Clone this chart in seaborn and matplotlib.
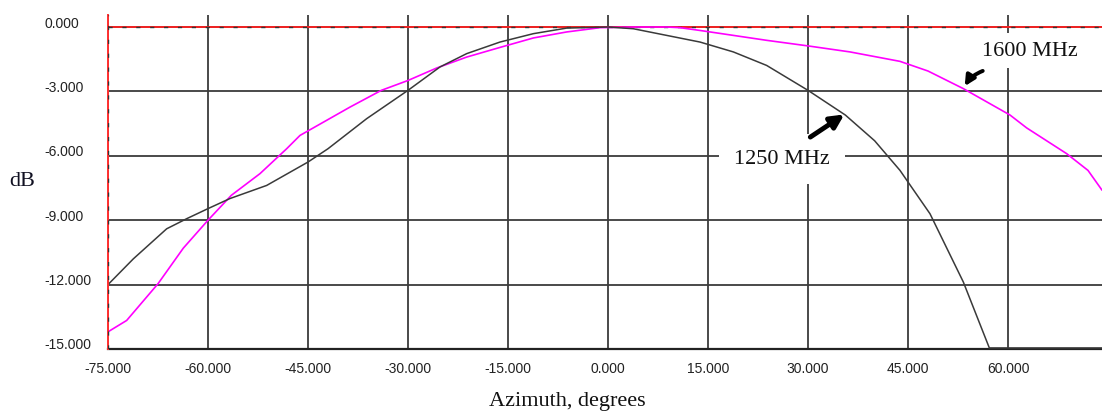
import numpy as np
import pandas as pd
import matplotlib
matplotlib.use("Agg")
import matplotlib.pyplot as plt
import matplotlib.transforms as mtransforms
import seaborn as sns

# ---- data ----
az_1250 = [-75, -71.2, -66.2, -63.2, -60, -56.7, -51.2, -45, -42, -36.2, -30,
           -25.2, -21.2, -16.2, -11.2, -6.2, 0, 3.8, 8.8, 13.8, 18.8, 23.8,
           30, 35.6, 40, 43.8, 45, 48.3, 53.3, 57.2, 74.1]
db_1250 = [-12.0, -10.8, -9.4, -8.93, -8.46, -7.99, -7.38, -6.29, -5.67, -4.27,
           -2.95, -1.86, -1.24, -0.70, -0.31, -0.05, 0.0, -0.08, -0.39, -0.70,
           -1.16, -1.79, -2.95, -4.1, -5.3, -6.68, -7.22, -8.7, -11.88, -14.95,
           -14.95]

az_1600 = [-75, -72.2, -67.5, -63.7, -60, -56.5, -52.2, -48.2, -46.2, -38.7,
           -34, -30, -25.7, -21.2, -16.2, -11.2, -6.2, -1.2, 3.8, 8.8, 10.8,
           13.8, 18.8, 23.8, 30, 36.3, 43.8, 48, 53.3, 60.3, 62.8, 68.8, 72,
           74.1]
db_1600 = [-14.2, -13.67, -11.96, -10.3, -9.0, -7.84, -6.83, -5.67, -5.05,
           -3.73, -2.95, -2.49, -1.91, -1.4, -0.95, -0.51, -0.23, -0.03, 0.0,
           0.0, -0.03, -0.16, -0.39, -0.62, -0.88, -1.16, -1.6, -2.05, -2.87,
           -4.1, -4.7, -5.9, -6.68, -7.6]

x_ticks = [-75, -60, -45, -30, -15, 0, 15, 30, 45, 60]
y_ticks = [-15, -12, -9, -6, -3, 0]

label_1250 = "1250 MHz"
label_1600 = "1600 MHz"

# ---- style ----
sns.set_style("white")
plt.rcParams['font.family'] = ['Liberation Sans', 'DejaVu Sans']

W, H = 1102, 414
fig = plt.figure(figsize=(W / 100, H / 100), dpi=100)
ax = fig.add_axes([108 / W, 1 - 350 / H, (W - 108) / W, (350 - 16) / H])

df1 = pd.DataFrame({"Azimuth": az_1250, "dB": db_1250})
df2 = pd.DataFrame({"Azimuth": az_1600, "dB": db_1600})

sns.lineplot(data=df2, x="Azimuth", y="dB", color="#ff00ff", lw=1.2, ax=ax,
             zorder=4)
sns.lineplot(data=df1, x="Azimuth", y="dB", color="#3a3a3a", lw=1.1, ax=ax,
             zorder=5)

ax.set_xlim(-75, 74.1)
ax.set_ylim(-15, 0.56)
ax.set_xticks(x_ticks)
ax.set_yticks(y_ticks)
ax.set_xticklabels([f"{v:.3f}" for v in x_ticks])
ax.set_yticklabels([f"{v:.3f}" for v in y_ticks])
ax.set_xlabel("")
ax.set_ylabel("")

ax.grid(True, color="#3c3c3c", lw=1.3)
ax.set_axisbelow(True)

for s in ["top", "right"]:
    ax.spines[s].set_visible(False)
ax.spines["bottom"].set_color("#222222")
ax.spines["bottom"].set_linewidth(1.6)
ax.spines["left"].set_color("#ff3030")
ax.spines["left"].set_linewidth(1.4)
ax.spines["left"].set_zorder(6)

# red reference line at 0 dB with dark dashes, and dashed overlay on left spine
ax.axhline(0, color="#ff2020", lw=1.3, zorder=3)
ax.axhline(0, color="#333333", lw=1.0, dashes=(3, 7), zorder=3.5)
ax.axvline(-75, color="#333333", lw=1.0, dashes=(3, 7), zorder=6.5)

ax.tick_params(axis="both", length=0, labelsize=10, colors="#222222")
ax.tick_params(axis="x", pad=9)
ax.tick_params(axis="y", pad=46)
offset = mtransforms.ScaledTranslation(0, 6 / 100, fig.dpi_scale_trans)
for lab in ax.get_yticklabels():
    lab.set_horizontalalignment("left")
    lab.set_transform(lab.get_transform() + offset)

serif = ["Liberation Serif", "DejaVu Serif"]
fig.text(22 / W, 1 - 182 / H, "dB", fontsize=16, family=serif,
         color="#111122", ha="center", va="center")
fig.text(567 / W, 1 - 402 / H, "Azimuth, degrees", fontsize=16, family=serif,
         color="#111111", ha="center", va="center")

# annotations
ax.text(26.1, -6.13, label_1250, fontsize=16, family=serif, color="#111111",
        ha="center", va="center", zorder=8,
        bbox=dict(boxstyle="square,pad=0.7", fc="white", ec="none"))
ax.annotate("", xy=(35.8, -4.0), xytext=(30.0, -5.2),
            arrowprops=dict(arrowstyle="-|>,head_length=0.8,head_width=0.4",
                            color="black", lw=3.5), zorder=9)

ax.text(63.3, -1.1, label_1600, fontsize=16, family=serif, color="#111111",
        ha="center", va="center", zorder=8,
        bbox=dict(boxstyle="square,pad=0.35", fc="white", ec="none"))
ax.annotate("", xy=(53.3, -2.87), xytext=(56.6, -2.0),
            arrowprops=dict(arrowstyle="-|>,head_length=0.6,head_width=0.3",
                            color="black", lw=2.8,
                            connectionstyle="arc3,rad=0.2"), zorder=9)

fig.savefig("out.png", dpi=100)
